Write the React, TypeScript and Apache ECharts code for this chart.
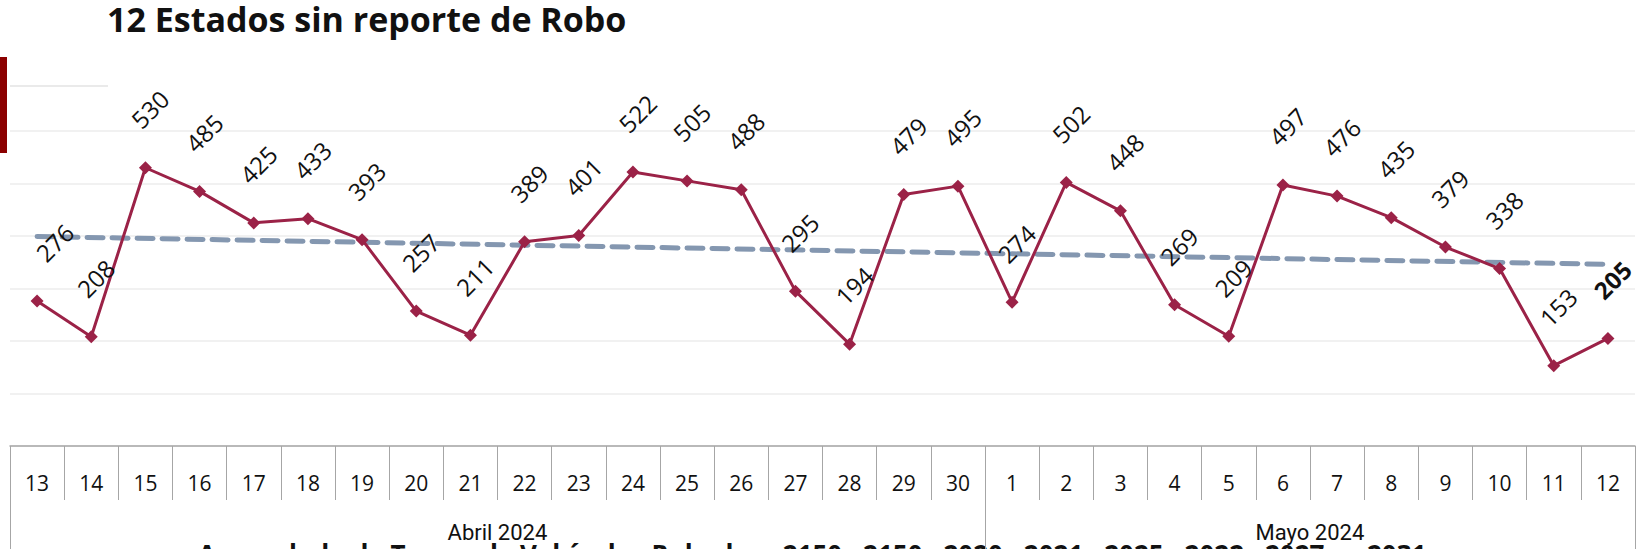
import React, { useEffect, useRef } from "react";
import * as echarts from "echarts";

const days = [
  "13", "14", "15", "16", "17", "18", "19", "20", "21", "22", "23", "24", "25", "26", "27", "28", "29", "30",
  "1", "2", "3", "4", "5", "6", "7", "8", "9", "10", "11", "12",
];
const values = [
  276, 208, 530, 485, 425, 433, 393, 257, 211, 389, 401, 522, 505, 488, 295, 194, 479, 495,
  274, 502, 448, 269, 209, 497, 476, 435, 379, 338, 153, 205,
];
const months = ["Abril 2024", "Mayo 2024"];
const monthLengths = [18, 12];
const trendStart = 399;
const trendEnd = 346;
const yMin = 0;
const yMax = 600;
const yStep = 100;
const title = "12 Estados sin reporte de Robo";
const footNote = "Acumulado de Tramo de Vehículos Robados   2150 · 2150 · 2020 · 2021 · 2025 · 2022 · 2027 · y 2031";

const LINE = "#9B2247";
const TREND = "#8497B0";
const AXIS = "#a6a6a6";

export default function App() {
  const ref = useRef<HTMLDivElement>(null);
  useEffect(() => {
    if (!ref.current) return;
    const chart = echarts.init(ref.current, null, { renderer: "svg" });

    const monthStarts: number[] = [];
    let acc = 0;
    monthLengths.forEach((l) => {
      monthStarts.push(acc);
      acc += l;
    });
    const labelIdx: Record<number, { name: string; even: boolean }> = {};
    months.forEach((m, i) => {
      const idx = Math.floor(monthStarts[i] + (monthLengths[i] - 1) / 2);
      labelIdx[idx] = { name: m, even: monthLengths[i] % 2 === 0 };
    });

    const trendData = values.map((_, i) =>
      i === 0 ? trendStart : i === values.length - 1 ? trendEnd : null
    );
    const lineData = values.map((v, i) => {
      if (i === 0) return { value: v, label: { position: [24, -52] } };
      if (i === values.length - 1) return { value: v, label: { fontWeight: "bold" } };
      return v;
    });

    chart.setOption({
      animation: false,
      grid: { left: 10, right: 2, top: 131, bottom: 103, containLabel: false },
      xAxis: [
        {
          type: "category",
          data: days,
          boundaryGap: true,
          position: "bottom",
          axisLine: { show: true, lineStyle: { color: AXIS, width: 1.5 } },
          axisTick: { show: true, interval: 0, length: 54, lineStyle: { color: AXIS, width: 1 } },
          axisLabel: {
            interval: 0,
            margin: 26,
            fontSize: 21,
            fontFamily: "Open Sans",
            color: "#111",
          },
          splitLine: { show: false },
        },
        {
          type: "category",
          data: days,
          boundaryGap: true,
          position: "bottom",
          offset: 54,
          axisLine: { show: false },
          axisTick: {
            show: true,
            length: 70,
            interval: (idx: number) => monthStarts.indexOf(idx) >= 0,
            lineStyle: { color: AXIS, width: 1 },
          },
          axisLabel: {
            interval: (idx: number) => labelIdx[idx] !== undefined,
            margin: 21,
            fontSize: 22,
            fontFamily: "Roboto",
            color: "#111",
            formatter: (_v: string, idx: number) => {
              const l = labelIdx[idx];
              if (!l) return "";
              return l.even ? "{m|" + l.name + "}" : l.name;
            },
            rich: {
              m: { padding: [0, 0, 0, 54], fontSize: 22, fontFamily: "Roboto", color: "#111" },
            },
          },
          splitLine: { show: false },
        },
      ],
      yAxis: {
        type: "value",
        min: yMin,
        max: yMax,
        interval: yStep,
        axisLine: { show: false },
        axisTick: { show: false },
        axisLabel: { show: false },
        splitLine: { show: true, lineStyle: { color: "#ededed", width: 1.5 } },
      },
      series: [
        {
          type: "line",
          data: trendData,
          connectNulls: true,
          symbol: "none",
          silent: true,
          lineStyle: { color: TREND, width: 5, type: [16, 9], cap: "round" },
          z: 1,
        },
        {
          type: "line",
          data: lineData,
          symbol: "diamond",
          symbolSize: 13,
          itemStyle: { color: LINE },
          lineStyle: { color: LINE, width: 3 },
          z: 2,
          label: {
            show: true,
            position: [11, -52],
            rotate: 45,
            align: "center",
            verticalAlign: "middle",
            fontSize: 24,
            fontFamily: "Open Sans",
            color: "#111",
          },
        },
      ],
      graphic: [
        {
          type: "text",
          left: 107,
          top: 2,
          style: {
            text: title,
            font: "bold 34px 'Open Sans'",
            fill: "#111",
          },
        },
        {
          type: "rect",
          shape: { x: 0, y: 57, width: 7, height: 96 },
          style: { fill: "#8B0000" },
        },
        {
          type: "line",
          shape: { x1: 10, y1: 86, x2: 108, y2: 86 },
          style: { stroke: "#e3e3e3", lineWidth: 1.5 },
        },
        {
          type: "text",
          left: 198,
          top: 541,
          style: {
            text: footNote,
            font: "bold 26px 'Open Sans'",
            fill: "#111",
          },
        },
      ],
    });
    return () => chart.dispose();
  }, []);
  return (
    <div
      ref={ref}
      style={{ position: "fixed", left: 0, top: 0, width: 1637, height: 549, background: "#fff" }}
    />
  );
}
